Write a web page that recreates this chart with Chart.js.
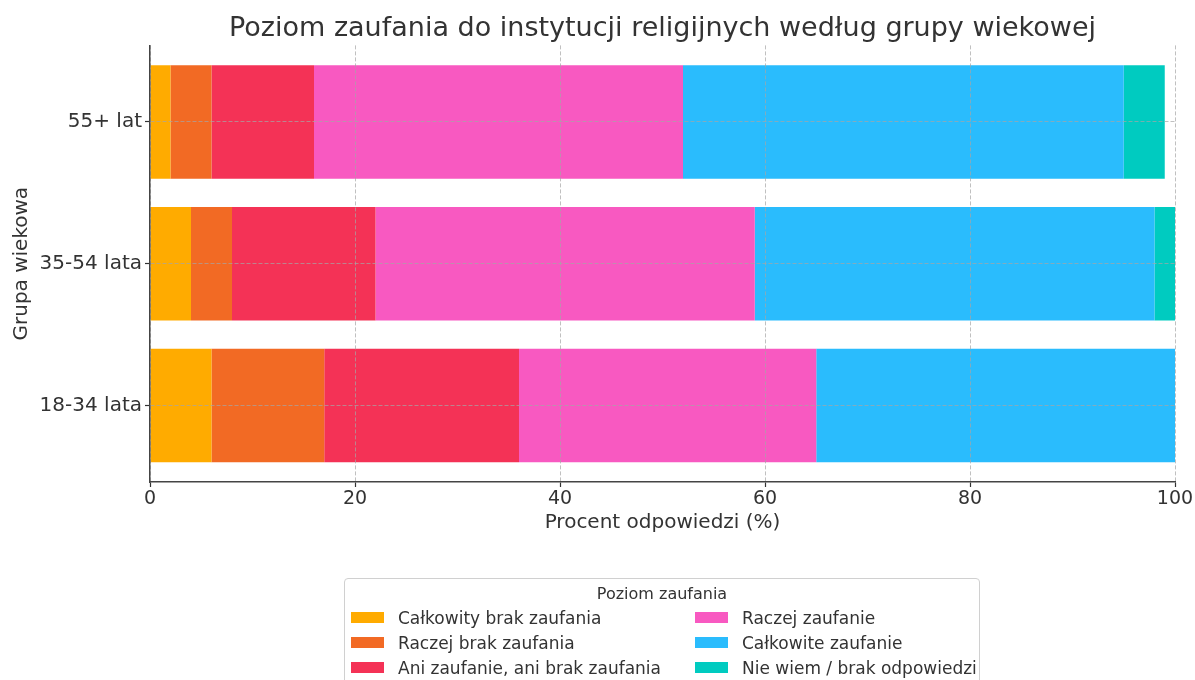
<!DOCTYPE html>
<html lang="pl">
<head>
<meta charset="utf-8">
<script src="https://cdn.jsdelivr.net/npm/chart.js@4.4.1/dist/chart.umd.min.js"></script>
<style>
    body { margin: 0; background: #fff; font-family: "DejaVu Sans", sans-serif; }
    #wrap { position: relative; width: 1195px; height: 680px; overflow: hidden; }
    #legend { position: absolute; left: 344px; top: 578px; width: 636px; height: 120px;
              border: 1px solid #d0d0d0; border-radius: 4px; box-sizing: border-box; color: #333; }
    #legend .ttl { position: absolute; left: 0; right: 0; top: 5px; text-align: center; font-size: 16px; }
    #legend .item { position: absolute; font-size: 17px; line-height: 20px; white-space: nowrap; }
    #legend .sw { display: inline-block; width: 33px; height: 11px; vertical-align: middle; margin-right: 14px; position: relative; top: -2px; }
</style>
</head>
<body>
<div id="wrap">
    <canvas id="chart" width="1195" height="680"></canvas>
    <div id="legend"><div class="ttl">Poziom zaufania</div></div>
</div>
<script>
// Dane
const ageGroups = ['55+ lat', '35-54 lata', '18-34 lata'];
const levels = [
    'Całkowity brak zaufania',
    'Raczej brak zaufania',
    'Ani zaufanie, ani brak zaufania',
    'Raczej zaufanie',
    'Całkowite zaufanie',
    'Nie wiem / brak odpowiedzi'
];
// wartości w kolejności ageGroups
const brakZaufania = [2, 4, 6];
const raczejBrak = [4, 4, 11];
const aniAni = [10, 14, 19];
const raczejZaufanie = [36, 37, 29];
const calkowiteZaufanie = [43, 39, 35];
const nieWiem = [4, 2, 0];
const xTicks = [0, 20, 40, 60, 80, 100];

const colors = ['#ffab00', '#f26a24', '#f43256', '#f859c1', '#2abcfd', '#00cbc0'];
const series = [brakZaufania, raczejBrak, aniAni, raczejZaufanie, calkowiteZaufanie, nieWiem];

const datasets = series.map((vals, k) => ({
    label: levels[k],
    data: vals.map((v, i) => ({ x: v, y: i })),
    backgroundColor: colors[k],
    borderWidth: 0,
    barPercentage: 0.8,
    categoryPercentage: 1.0
}));

const textColor = '#333';
const gridColor = 'rgba(165,165,165,0.7)';

new Chart(document.getElementById('chart'), {
    type: 'bar',
    data: { datasets },
    options: {
        responsive: false,
        animation: false,
        indexAxis: 'y',
        layout: { padding: { left: 0, right: 20, top: 0, bottom: 142 } },
        plugins: {
            legend: { display: false },
            tooltip: { enabled: false },
            title: {
                display: true,
                fullSize: false,
                text: 'Poziom zaufania do instytucji religijnych według grupy wiekowej',
                color: textColor,
                font: { family: 'DejaVu Sans', size: 27, weight: 'normal' },
                padding: { top: 13, bottom: 0 }
            }
        },
        scales: {
            x: {
                type: 'linear',
                stacked: true,
                min: 0, max: 100,
                afterBuildTicks: s => { s.ticks = xTicks.map(v => ({ value: v })); },
                afterFit: s => { s.height = 56; },
                ticks: { color: textColor, font: { family: 'DejaVu Sans', size: 19 }, padding: 1, maxRotation: 0 },
                grid: { z: 1, color: gridColor, lineWidth: 1, tickColor: textColor, tickLength: 5, tickWidth: 1.2 },
                border: { z: 2, display: true, color: '#444', width: 1.5, dash: [4, 2] },
                title: { display: true, text: 'Procent odpowiedzi (%)', color: textColor,
                         font: { family: 'DejaVu Sans', size: 20 }, padding: { top: 4, bottom: 3 } }
            },
            y: {
                type: 'linear',
                stacked: true,
                reverse: true,
                offset: false,
                min: -0.54, max: 2.54,
                afterBuildTicks: s => { s.ticks = ageGroups.map((g, i) => ({ value: i })); },
                afterFit: s => { s.width = 150; },
                ticks: { color: textColor, font: { family: 'DejaVu Sans', size: 20 }, padding: 3,
                         callback: v => ageGroups[v] },
                grid: { z: 1, offset: false, color: gridColor, lineWidth: 1, tickColor: textColor, tickLength: 5, tickWidth: 1.2 },
                border: { z: 2, display: true, color: '#444', width: 1.5, dash: [4, 2] },
                title: { display: true, text: 'Grupa wiekowa', color: textColor,
                         font: { family: 'DejaVu Sans', size: 20 }, padding: { top: 10, bottom: 0 } }
            }
        }
    }
});

// Legenda w dwóch kolumnach (kolumnami, jak w oryginale)
const legendEl = document.getElementById('legend');
levels.forEach((name, k) => {
    const col = Math.floor(k / 3), row = k % 3;
    const el = document.createElement('div');
    el.className = 'item';
    el.style.left = (col === 0 ? 6 : 350) + 'px';
    el.style.top = (29 + row * 25) + 'px';
    el.innerHTML = `<span class="sw" style="background:${colors[k]}"></span>${name}`;
    legendEl.appendChild(el);
});
</script>
</body>
</html>
